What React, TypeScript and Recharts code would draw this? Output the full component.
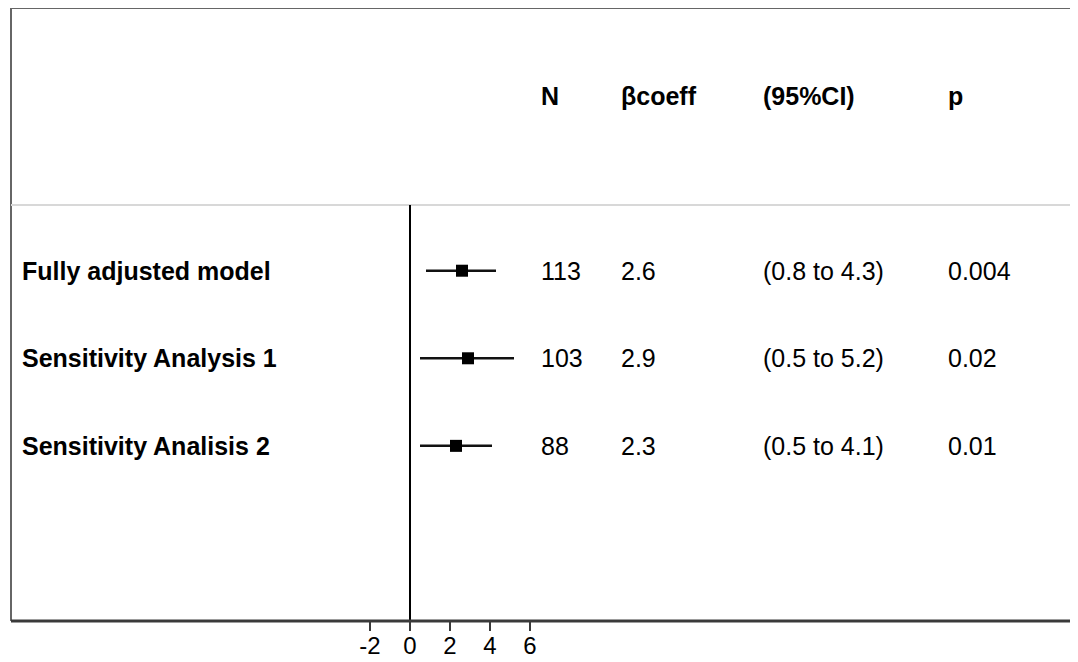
import {
  ComposedChart,
  Scatter,
  ErrorBar,
  XAxis,
  YAxis,
  ReferenceLine,
} from 'recharts';

// #region Sample data
const models = ['Fully adjusted model', 'Sensitivity Analysis 1', 'Sensitivity Analisis 2'];
const nValues = [113, 103, 88];
const betas = [2.6, 2.9, 2.3];
const ciLow = [0.8, 0.5, 0.5];
const ciHigh = [4.3, 5.2, 4.1];
const pValues = ['0.004', '0.02', '0.01'];
const headers = ['N', 'βcoeff', '(95%CI)', 'p'];
const xTicks = [-2, 0, 2, 4, 6];
// #endregion

const rows = models.map((name, i) => ({
  name,
  row: i + 1,
  beta: betas[i],
  err: [betas[i] - ciLow[i], ciHigh[i] - betas[i]],
  n: String(nValues[i]),
  b: betas[i].toFixed(1),
  ci: `(${ciLow[i].toFixed(1)} to ${ciHigh[i].toFixed(1)})`,
  p: pValues[i],
}));

const headerRow = [{ beta: 0, row: -1 }];

const FONT = '"Liberation Sans", Arial, Helvetica, sans-serif';
const COLS = { label: 22, n: 541, b: 621, ci: 763, p: 948 };

const Square = (props: any) => {
  const { cx, cy } = props;
  return <rect x={cx - 6} y={cy - 6} width={12} height={12} fill="#000" />;
};

const RowText = (props: any) => {
  const { cy, payload } = props;
  const common = { y: cy, dominantBaseline: 'central', fontFamily: FONT, fontSize: 25, fill: '#000' } as any;
  return (
    <g>
      <text {...common} x={COLS.label} fontWeight="bold">{payload.name}</text>
      <text {...common} x={COLS.n}>{payload.n}</text>
      <text {...common} x={COLS.b}>{payload.b}</text>
      <text {...common} x={COLS.ci}>{payload.ci}</text>
      <text {...common} x={COLS.p}>{payload.p}</text>
    </g>
  );
};

const HeaderText = (props: any) => {
  const { cy } = props;
  const xs = [COLS.n, COLS.b, COLS.ci, COLS.p];
  return (
    <g>
      {headers.map((h, i) => (
        <text key={h} x={xs[i]} y={cy} dominantBaseline="central" fontFamily={FONT} fontSize={25} fontWeight="bold" fill="#000">
          {h}
        </text>
      ))}
    </g>
  );
};

export default function App() {
  return (
    <div style={{ margin: -8 }}>
      <ComposedChart
        width={1078}
        height={662}
        margin={{ top: 8, right: 1, bottom: 0, left: 11 }}
        style={{ background: '#fff' }}
      >
        <XAxis
          type="number"
          dataKey="beta"
          domain={[-19.95, 33.35]}
          allowDataOverflow
          ticks={xTicks}
          height={41}
          axisLine={{ stroke: '#3a3a3a', strokeWidth: 3 }}
          tickLine={{ stroke: '#3a3a3a', strokeWidth: 2 }}
          tickSize={10}
          tickMargin={6}
          tick={{ fontFamily: FONT, fontSize: 24, fill: '#000' }}
        />
        <YAxis type="number" dataKey="row" domain={[-2, 5]} reversed hide allowDataOverflow />
        {/* box frame */}
        <ReferenceLine x={-19.95} stroke="#666" strokeWidth={2} />
        <ReferenceLine y={-2} stroke="#666" strokeWidth={2} />
        <ReferenceLine x={33.35} stroke="#d0d0d0" strokeWidth={1.5} />
        <ReferenceLine y={0.25} stroke="#d8d8d8" strokeWidth={2} />
        <ReferenceLine segment={[{ x: 0, y: 0.25 }, { x: 0, y: 5 }]} stroke="#000" strokeWidth={2} />
        <Scatter data={headerRow} shape={HeaderText} isAnimationActive={false} />
        <Scatter data={rows} shape={RowText} isAnimationActive={false} />
        <Scatter data={rows} shape={Square} isAnimationActive={false}>
          <ErrorBar dataKey="err" direction="x" width={0} stroke="#111" strokeWidth={2.5} />
        </Scatter>
      </ComposedChart>
    </div>
  );
}
